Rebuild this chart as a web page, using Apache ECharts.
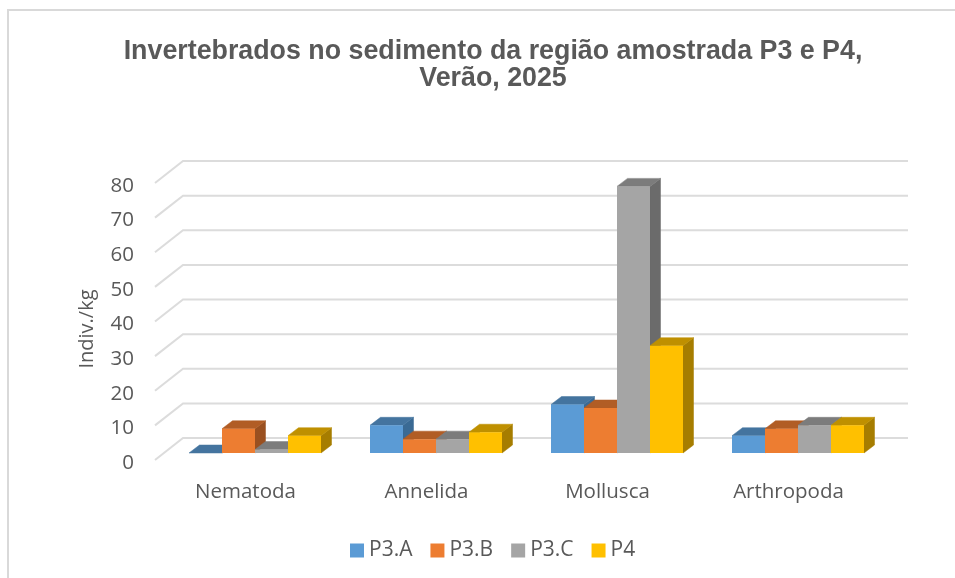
<!DOCTYPE html>
<html><head><meta charset="utf-8">
<style>html,body{margin:0;padding:0;background:#fff}#c{width:955px;height:578px}</style>
<script src="https://cdn.jsdelivr.net/npm/echarts@6/dist/echarts.min.js"></script>
</head><body><div id="c"></div>
<script>
const categories = ['Nematoda', 'Annelida', 'Mollusca', 'Arthropoda'];
const seriesNames = ['P3.A', 'P3.B', 'P3.C', 'P4'];
const p3a = [0, 8, 14, 5];
const p3b = [7, 4, 13, 7];
const p3c = [1, 4, 77, 8];
const p4 = [5, 6, 31, 8];
const yTicks = [0, 10, 20, 30, 40, 50, 60, 70, 80];
const seriesValues = [p3a, p3b, p3c, p4];
const frontColors = ['#5B9BD5', '#ED7D31', '#A5A5A5', '#FFC000'];
const topColors = ['#44749F', '#B15D25', '#7C7C7C', '#BF9000'];
const sideColors = ['#3A6A94', '#9A5020', '#6B6B6B', '#A67D00'];
const TXT = '#595959';
const FONT = 'Open Sans';

// 3D projection constants
const wallDX = 28, wallDY = -22, wallW = 725;
const barW = 33, barDX = 10.5, barDY = -8, faceDX = 9.5, faceDY = -7;

function gridRender(params, api) {
  const cs = params.coordSys;
  const y = api.coord([0, api.value(0)])[1];
  const x0 = cs.x;
  return {
    type: 'polyline',
    shape: { points: [[x0, y], [x0 + wallDX, y + wallDY], [x0 + wallDX + wallW, y + wallDY]] },
    style: { fill: null, stroke: '#DCDCDC', lineWidth: 2 },
    silent: true
  };
}
function barRender(idx) {
  return function (params, api) {
    const base = api.coord([api.value(0), 0]);
    const top = api.coord([api.value(0), api.value(1)]);
    const l = base[0] + faceDX + (idx - 2) * barW, r = l + barW;
    const b = base[1] + faceDY, t = top[1] + faceDY;
    const mk = (pts, fill) => ({ type: 'polygon', shape: { points: pts }, style: { fill: fill, stroke: fill, lineWidth: 0.5 } });
    return {
      type: 'group',
      children: [
        mk([[r, t], [r + barDX, t + barDY], [r + barDX, b + barDY], [r, b]], sideColors[idx]),
        mk([[l, t], [l + barDX, t + barDY], [r + barDX, t + barDY], [r, t]], topColors[idx]),
        { type: 'rect', shape: { x: l, y: t, width: barW, height: b - t }, style: { fill: frontColors[idx] } }
      ]
    };
  };
}

const chart = echarts.init(document.getElementById('c'), null, { renderer: 'canvas' });
chart.setOption({
  animation: false,
  backgroundColor: '#fff',
  textStyle: { fontFamily: FONT },
  title: {
    text: 'Invertebrados no sedimento da região amostrada P3 e P4,\nVerão, 2025',
    left: 488, top: 33, textAlign: 'center',
    textStyle: { fontFamily: 'Liberation Sans', fontWeight: 'bold', fontSize: 26.8, lineHeight: 27, color: TXT }
  },
  grid: { left: 155, top: 183, width: 724, height: 277, containLabel: false },
  xAxis: {
    type: 'category', data: categories,
    axisLine: { show: false }, axisTick: { show: false }, splitLine: { show: false },
    axisLabel: { color: TXT, fontSize: 20.5, fontFamily: FONT, margin: 22 }
  },
  yAxis: {
    type: 'value', min: 0, max: 80, interval: 10,
    name: 'Indiv./kg', nameLocation: 'middle', nameGap: 58, nameRotate: 90,
    nameTextStyle: { color: TXT, fontSize: 20, fontFamily: FONT, padding: [0, 15, 0, 0] },
    axisLine: { show: false }, axisTick: { show: false }, splitLine: { show: false },
    axisLabel: {
      margin: 21, formatter: '{v|{value}}',
      rich: { v: { color: TXT, fontSize: 20.5, fontFamily: FONT, padding: [6, 0, 0, 0] } }
    }
  },
  legend: {
    data: seriesNames, left: 350, top: 540, padding: 0,
    icon: 'rect', itemWidth: 14, itemHeight: 14, itemGap: 18,
    textStyle: { color: TXT, fontSize: 21, fontFamily: FONT }
  },
  graphic: [
    { type: 'polyline', shape: { points: [[8, 578], [8, 10], [955, 10]] }, style: { fill: null, stroke: '#D9D9D9', lineWidth: 2 }, silent: true }
  ],
  series: [
    {
      type: 'custom', name: 'grid', renderItem: gridRender, silent: true, z: 1,
      data: yTicks.map(v => [v]), encode: { y: 0 }, clip: false
    }
  ].concat(seriesNames.map((n, i) => ({
    type: 'custom', name: n, z: 2 + i, renderItem: barRender(i), clip: false,
    itemStyle: { color: frontColors[i] },
    encode: { x: 0, y: 1 },
    data: seriesValues[i].map((v, j) => [j, v])
  })))
});
</script></body></html>
